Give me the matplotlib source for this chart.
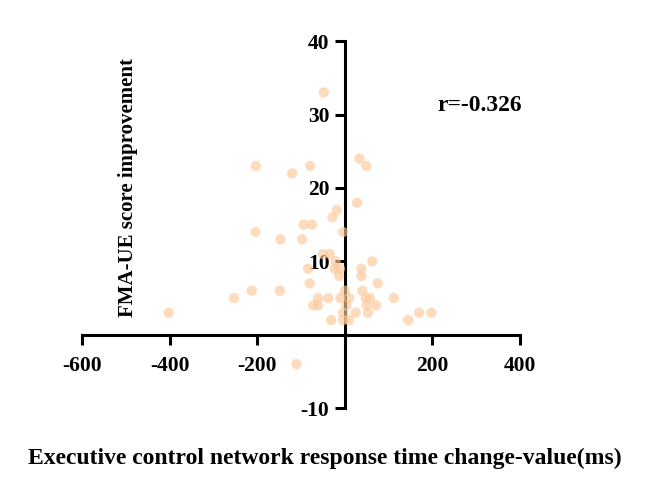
import matplotlib.pyplot as plt
import numpy as np

plt.rcParams['font.family'] = ['Liberation Serif', 'DejaVu Serif']
plt.rcParams['font.weight'] = 'bold'
plt.rcParams['axes.unicode_minus'] = False

# response time change (ms) vs FMA-UE improvement
rt_change = [-48, -203, -120, -79, 34, 49, 28, -18, -28, -94, -75, -204, -147, -97, -4,
             -50, -34, -21, 63, -84, -23, -11, 38, -13, 38, -80, 75, -212, -148, 0,
             40, -61, -38, -10, 10, 48, 58, 112, -72, -61, 4, 50, 72, -4, 25,
             53, 170, 198, -31, -4, 10, 145, -402, -253, -110]
fma_gain = [33, 23, 22, 23, 24, 23, 18, 17, 16, 15, 15, 14, 13, 13, 14,
            11, 11, 10, 10, 9, 9, 9, 9, 8, 8, 7, 7, 6, 6, 6,
            6, 5, 5, 5, 5, 5, 5, 5, 4, 4, 4, 4, 4, 3, 3,
            3, 3, 3, 2, 2, 2, 2, 3, 5, -4]
x_ticks = [-600, -400, -200, 200, 400]
y_ticks = [-10, 10, 20, 30, 40]
r_text = 'r=-0.326'

fig = plt.figure(figsize=(6.5, 4.9), dpi=100)
ax = fig.add_axes([0.126, 0.167, 0.674, 0.749])

ax.scatter(rt_change, fma_gain, s=55, color='#FCC999', alpha=0.65, edgecolors='none', zorder=3)

ax.set_xlim(-600, 400)
ax.set_ylim(-10, 40)
ax.spines['left'].set_position(('data', 0))
ax.spines['bottom'].set_position(('data', 0))
ax.spines['right'].set_visible(False)
ax.spines['top'].set_visible(False)
for s in ('left', 'bottom'):
    ax.spines[s].set_linewidth(2.2)

ax.set_xticks(x_ticks)
ax.set_yticks(y_ticks)
ax.tick_params(axis='both', direction='out', length=7, width=2.2, labelsize=15.5, pad=4)
ax.tick_params(axis='x', pad=8)
for lab in ax.get_xticklabels() + ax.get_yticklabels():
    lab.set_fontweight('bold')

ax.text(0.105, 0.60, 'FMA-UE score improvement', transform=ax.transAxes, rotation=90,
        ha='center', va='center', fontsize=15, fontweight='bold')
fig.text(0.5, 0.065, 'Executive control network response time change-value(ms)',
         ha='center', va='center', fontsize=17, fontweight='bold')
ax.text(0.909, 0.824, r_text, transform=ax.transAxes, ha='center', va='center',
        fontsize=17, fontweight='bold')

plt.savefig('out.png', dpi=100)
